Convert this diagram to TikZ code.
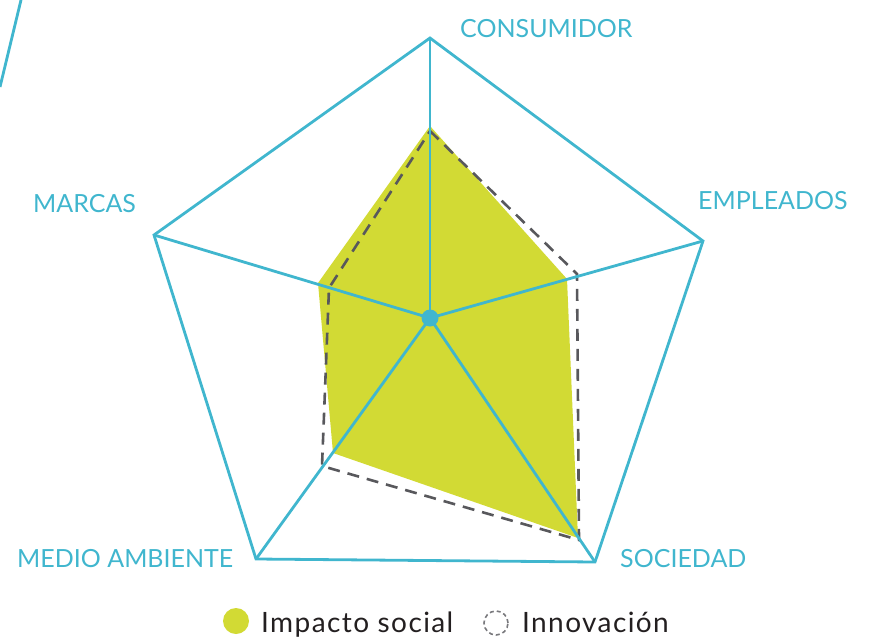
\documentclass[tikz,border=0pt]{standalone}
\usepackage{fontspec}
\setmainfont{Lato}
\newfontfamily\legendfont[LetterSpace=5]{Lato}
\usetikzlibrary{calc}
\definecolor{radarblue}{RGB}{64,182,206}
\definecolor{radargreen}{RGB}{210,218,52}
\definecolor{radargrey}{RGB}{88,88,92}
\definecolor{legendtext}{RGB}{35,31,32}
\newcommand{\LineW}{2.8pt}
\tikzset{Axis/.style={
    draw=radarblue,
    line width=\LineW,
    line join=miter,
    },
    Label/.style={
    text=radarblue,
    inner sep=0pt,
    font=\fontsize{25}{25}\selectfont,
    },
    Legend/.style={
    text=legendtext,
    inner sep=0pt,
    font=\legendfont\fontsize{28}{28}\selectfont,
    }
}

\begin{document}
\begin{tikzpicture}[x=1pt, y=-1pt]
\useasboundingbox (0,0) rectangle (870,637);
% stray line, top left
\coordinate (StrayA) at (21,0);
\coordinate (StrayB) at (0,87);
\draw[Axis] (StrayA) -- (StrayB);
% axes
\coordinate (Centre) at (430,318);
\coordinate (Cons) at (430,38);
\coordinate (Empl) at (703,241);
\coordinate (Soc) at (595,562);
\coordinate (Medio) at (256,559);
\coordinate (Marc) at (154,235);
% impacto social
\coordinate (iCons) at (430,126);
\coordinate (iEmpl) at (567,279);
\coordinate (iSoc) at (578,538);
\coordinate (iMedio) at (333,453);
\coordinate (iMarc) at (318,283);
\fill[radargreen] (iCons) -- (iEmpl) -- (iSoc) -- (iMedio) -- (iMarc) -- cycle;
% innovacion
\coordinate (nCons) at (430,131);
\coordinate (nEmpl) at (577,274);
\coordinate (nSoc) at (579,540);
\coordinate (nMedio) at (322,466);
\coordinate (nMarc) at (329,288);
\draw[radargrey, line width=2.6pt, dash pattern=on 12pt off 8pt]
    (nCons) -- (nEmpl) -- (nSoc) -- (nMedio) -- (nMarc) -- cycle;
% pentagon and spokes
\draw[Axis] (Cons) -- (Empl) -- (Soc) -- (Medio) -- (Marc) -- cycle;
\foreach \v in {Cons,Empl,Soc,Medio,Marc}
    \draw[Axis] (Centre) -- (\v);
\node[circle, fill=radarblue, inner sep=0pt, minimum size=17pt] (Hub) at (Centre) {};
% labels
\node[Label, anchor=base west] (lCons) at (460,37) {CONSUMIDOR};
\node[Label, anchor=base west] (lEmpl) at (698,209) {EMPLEADOS};
\node[Label, anchor=base west] (lMarc) at (33,212) {MARCAS};
\node[Label, anchor=base west] (lMedio) at (17,567) {MEDIO AMBIENTE};
\node[Label, anchor=base west] (lSoc) at (620,567) {SOCIEDAD};
% legend
\node[circle, fill=radargreen, inner sep=0pt, minimum size=26pt] (kImpact) at (236,621) {};
\node[Legend, anchor=base west] (tImpact) at (261,632) {Impacto social};
\node[circle, draw=radargrey!80, line width=1.6pt, dash pattern=on 4pt off 3pt,
    inner sep=0pt, minimum size=24pt] (kInnov) at (496,623) {};
\node[Legend, anchor=base west] (tInnov) at (522,632) {Innovación};
\end{tikzpicture}
\end{document}
